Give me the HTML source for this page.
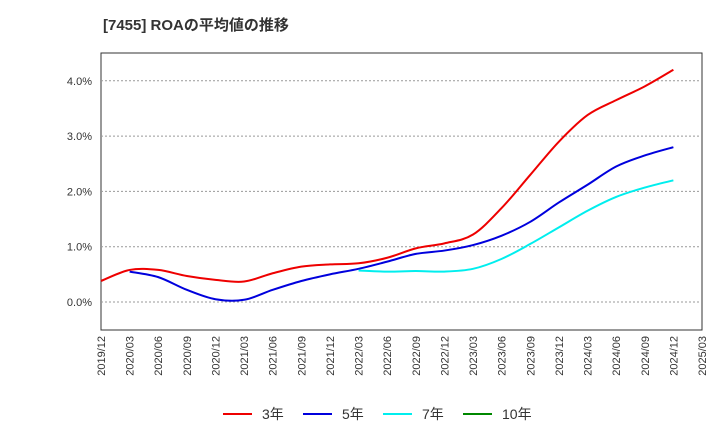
<!DOCTYPE html>
<html><head><meta charset="utf-8"><style>
body{margin:0;background:#fff;font-family:"Liberation Sans","Noto Sans CJK JP",sans-serif;}
</style></head><body>
<svg id="c" width="720" height="440" xmlns="http://www.w3.org/2000/svg">
<text x="103" y="30" font-size="15" font-weight="bold" fill="#333">[7455]  ROAの平均値の推移</text>
<rect x="101" y="53" width="601" height="277" fill="none" stroke="#333" stroke-width="1"/>
<g id="grid"></g><g id="series"></g><g id="axes"></g>
<g font-size="14" fill="#333">
<line x1="223" y1="414" x2="252" y2="414" stroke="#e00" stroke-width="2"/><text x="262" y="419">3年</text>
<line x1="303" y1="414" x2="332" y2="414" stroke="#00d" stroke-width="2"/><text x="342" y="419">5年</text>
<line x1="383" y1="414" x2="412" y2="414" stroke="#0ee" stroke-width="2"/><text x="422" y="419">7年</text>
<line x1="463" y1="414" x2="492" y2="414" stroke="#080" stroke-width="2"/><text x="502" y="419">10年</text>
</g>
</svg>
<script>
const categories=["2019/12","2020/03","2020/06","2020/09","2020/12","2021/03","2021/06","2021/09","2021/12","2022/03","2022/06","2022/09","2022/12","2023/03","2023/06","2023/09","2023/12","2024/03","2024/06","2024/09","2024/12","2025/03"];
const yTicks=[0,1,2,3,4];
const s3=[0.38,0.58,0.58,0.47,0.40,0.37,0.52,0.64,0.68,0.70,0.80,0.97,1.06,1.22,1.70,2.30,2.90,3.38,3.65,3.90,4.20];
const s5=[null,0.55,0.45,0.22,0.05,0.04,0.22,0.38,0.50,0.60,0.73,0.87,0.93,1.03,1.20,1.45,1.80,2.12,2.45,2.65,2.80];
const s7=[null,null,null,null,null,null,null,null,null,0.57,0.55,0.56,0.55,0.60,0.78,1.05,1.35,1.65,1.90,2.07,2.20];
const X=i=>101+i*(601/(categories.length-1));
const Y=v=>302-v*55.3;
const NS="http://www.w3.org/2000/svg";
function mk(t,a,p){const e=document.createElementNS(NS,t);for(const k in a)e.setAttribute(k,a[k]);p.appendChild(e);return e;}
const grid=document.getElementById('grid'),axes=document.getElementById('axes'),ser=document.getElementById('series');
yTicks.forEach(v=>{const l=mk('line',{x1:101,x2:702,y1:Y(v),y2:Y(v),stroke:'#999','stroke-dasharray':'2,2'},grid);


const t=mk('text',{x:92,y:Y(v)+4,'text-anchor':'end','font-size':11,fill:'#333'},axes);t.textContent=v.toFixed(1)+'%';

});
categories.forEach((c,i)=>{const t=mk('text',{transform:`translate(${X(i)+4},336) rotate(-90)`,'text-anchor':'end','font-size':11,fill:'#333'},axes);t.textContent=c;

});
function path(arr,color,name){const p=[];arr.forEach((v,i)=>{if(v!=null)p.push([X(i),Y(v)]);});
let d='M'+p[0][0]+','+p[0][1];
for(let i=0;i<p.length-1;i++){const p0=p[i-1]||p[i],p1=p[i],p2=p[i+1],p3=p[i+2]||p2;
d+=` C${p1[0]+(p2[0]-p0[0])/6},${p1[1]+(p2[1]-p0[1])/6} ${p2[0]-(p3[0]-p1[0])/6},${p2[1]-(p3[1]-p1[1])/6} ${p2[0]},${p2[1]}`;}
const e=mk('path',{d:d,fill:'none',stroke:color,'stroke-width':2},ser);

}
path(s3,'#e00','series-3yr');path(s5,'#00d','series-5yr');path(s7,'#0ee','series-7yr');
</script>
</body></html>
